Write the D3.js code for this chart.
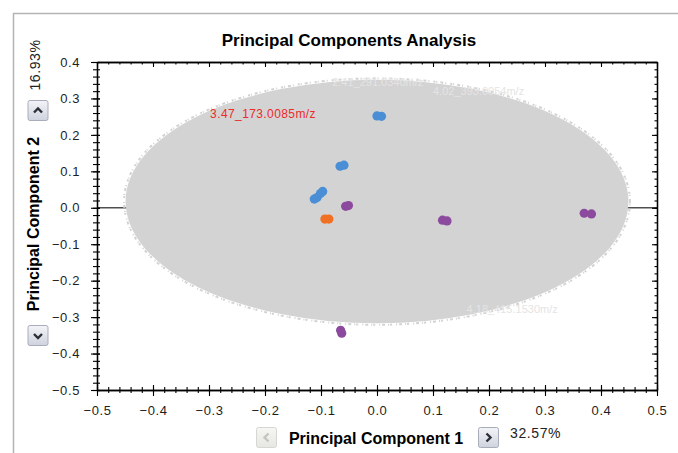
<!DOCTYPE html>
<html>
<head>
<meta charset="utf-8">
<script src="https://cdn.jsdelivr.net/npm/d3@7"></script>
<style>
  body { margin: 0; background: #fff; }
  svg { display: block; font-family: "Liberation Sans", Arial, sans-serif; }
  .tick text { fill: #1e1e1e; }
</style>
</head>
<body>
<svg width="678" height="453"></svg>
<script>
// data
const xTicks = [-0.5, -0.4, -0.3, -0.2, -0.1, 0.0, 0.1, 0.2, 0.3, 0.4, 0.5]
const yTicks = [-0.5, -0.4, -0.3, -0.2, -0.1, 0.0, 0.1, 0.2, 0.3, 0.4]

const pc1Blue = [0.000, 0.008, -0.066, -0.059, -0.097, -0.101, -0.107, -0.112]
const pc2Blue = [0.252, 0.251, 0.114, 0.117, 0.045, 0.039, 0.028, 0.024]
const pc1Purple = [-0.056, -0.051, 0.117, 0.125, 0.370, 0.383, -0.065, -0.063]
const pc2Purple = [0.004, 0.006, -0.034, -0.036, -0.015, -0.017, -0.336, -0.344]
const pc1Orange = [-0.093, -0.086]
const pc2Orange = [-0.031, -0.031]

// loadings cloud (ellipse: centre + radii in PC units)
const cloudCentre = [0.0, 0.017]
const cloudRadius = [0.449, 0.334]
const cloudLabels = ['2.41_291.0340m/z', '4.02_393.0054m/z', '4.18_415.1530m/z']
const cloudLabelX = [-0.08, 0.10, 0.16]
const cloudLabelY = [0.335, 0.31, -0.29]

const hiLabel = '3.47_173.0085m/z'
const hiLabelX = -0.298
const hiLabelY = 0.245

const pctPC1 = '32.57%'
const pctPC2 = '16.93%'

const colors = { blue: '#4a8fd6', purple: '#8c4a9e', orange: '#f07024' }

// dimensions
const margin = { top: 62, right: 21, bottom: 63, left: 97 }
const W = 678, H = 453

const $svg = d3.select('svg')
const x = d3.scaleLinear().domain([-0.5, 0.5]).range([margin.left, W - margin.right])
const y = d3.scaleLinear().domain([-0.5, 0.4]).range([H - margin.bottom, margin.top])
const minorX = d3.ticks(-0.5, 0.5, 50)
const minorY = d3.ticks(-0.5, 0.4, 45)

// defs for buttons
const defs = $svg.append('defs')
const grad = defs.append('linearGradient').attr('id', 'btn').attr('x1', 0).attr('y1', 0).attr('x2', 0).attr('y2', 1)
grad.append('stop').attr('offset', 0).attr('stop-color', '#f3f4f8')
grad.append('stop').attr('offset', 1).attr('stop-color', '#cfd3de')
const gradOff = defs.append('linearGradient').attr('id', 'btnOff').attr('x1', 0).attr('y1', 0).attr('x2', 0).attr('y2', 1)
gradOff.append('stop').attr('offset', 0).attr('stop-color', '#f6f6f4')
gradOff.append('stop').attr('offset', 1).attr('stop-color', '#e6e6e2')

// frame
$svg.append('line').attr('x1', 13).attr('x2', W).attr('y1', 13.5).attr('y2', 13.5)
  .attr('stroke', '#b4b4b4').attr('stroke-width', 1.5)
$svg.append('line').attr('x1', 13.5).attr('x2', 13.5).attr('y1', 13).attr('y2', H)
  .attr('stroke', '#b4b4b4').attr('stroke-width', 1.5)

// zero line
$svg.append('line')
  .attr('x1', x(-0.5)).attr('x2', x(0.5)).attr('y1', y(0)).attr('y2', y(0))
  .attr('stroke', '#505050').attr('stroke-width', 1.6)

// cloud
const rx = x(cloudRadius[0]) - x(0)
const ry = y(0) - y(cloudRadius[1])
$svg.append('ellipse')
  .attr('cx', x(cloudCentre[0])).attr('cy', y(cloudCentre[1]))
  .attr('rx', rx + 1.5).attr('ry', ry + 1.5)
  .attr('fill', 'none').attr('stroke', '#d3d3d3').attr('stroke-width', 2)
  .attr('stroke-dasharray', '2 1 1 3 3 2 1 4')
$svg.append('ellipse')
  .attr('cx', x(cloudCentre[0])).attr('cy', y(cloudCentre[1]))
  .attr('rx', rx).attr('ry', ry)
  .attr('fill', '#d3d3d3')

$svg.append('g').selectAll('text')
  .data(cloudLabels)
  .join('text')
  .attr('x', (d, i) => x(cloudLabelX[i]))
  .attr('y', (d, i) => y(cloudLabelY[i]))
  .attr('fill', '#e4e4e4')
  .style('font-size', '11px')
  .text(d => d)

// highlighted loading
$svg.append('text')
  .attr('x', x(hiLabelX)).attr('y', y(hiLabelY))
  .attr('fill', '#ee2a2a')
  .style('font-size', '12px')
  .style('letter-spacing', '0.4px')
  .text(hiLabel)

// scores
const groups = [
  { xs: pc1Blue, ys: pc2Blue, c: colors.blue },
  { xs: pc1Purple, ys: pc2Purple, c: colors.purple },
  { xs: pc1Orange, ys: pc2Orange, c: colors.orange }
]
groups.forEach(g => {
  $svg.append('g').selectAll('circle')
    .data(g.xs.map((v, i) => [v, g.ys[i]]))
    .join('circle')
    .attr('cx', d => x(d[0]))
    .attr('cy', d => y(d[1]))
    .attr('r', 4.6)
    .attr('fill', g.c)
})

// axes
const fmt = d3.format('.1f')
function styleAxis(sel) {
  sel.select('.domain').attr('stroke', '#000').attr('stroke-width', 1.3)
  sel.selectAll('.tick line').attr('stroke', '#000').attr('stroke-width', 1.1)
  sel.selectAll('.tick text').style('font-size', '13px').style('letter-spacing', '0.6px')
}

// bottom
const gB = $svg.append('g').attr('transform', `translate(0,${y(-0.5)})`)
gB.append('g').call(d3.axisBottom(x).tickValues(minorX).tickFormat('').tickSize(3).tickSizeOuter(0))
  .call(styleAxis).selectAll('.tick line').attr('y1', -3)
gB.append('g').call(d3.axisBottom(x).tickValues(xTicks).tickFormat(fmt).tickSize(6).tickPadding(10).tickSizeOuter(0))
  .call(styleAxis).selectAll('.tick line').attr('y1', -5)

// left
const gL = $svg.append('g').attr('transform', `translate(${x(-0.5)},0)`)
gL.append('g').call(d3.axisLeft(y).tickValues(minorY).tickFormat('').tickSize(4).tickSizeOuter(0))
  .call(styleAxis).selectAll('.tick line').attr('x1', 3)
gL.append('g').call(d3.axisLeft(y).tickValues(yTicks).tickFormat(fmt).tickSize(6).tickPadding(11).tickSizeOuter(0))
  .call(styleAxis).selectAll('.tick line').attr('x1', 3)

// top
const gT = $svg.append('g').attr('transform', `translate(0,${y(0.4)})`)
gT.append('g').call(d3.axisBottom(x).tickValues(minorX).tickFormat('').tickSize(2.5).tickSizeOuter(0)).call(styleAxis)
gT.append('g').call(d3.axisBottom(x).tickValues(xTicks).tickFormat('').tickSize(5).tickSizeOuter(0)).call(styleAxis)

// right
const gR = $svg.append('g').attr('transform', `translate(${x(0.5)},0)`)
gR.append('g').call(d3.axisLeft(y).tickValues(minorY).tickFormat('').tickSize(2.5).tickSizeOuter(0))
  .call(styleAxis).selectAll('.tick line').attr('x2', 0).attr('x1', -2.5)
gR.append('g').call(d3.axisLeft(y).tickValues(yTicks).tickFormat('').tickSize(5).tickSizeOuter(0)).call(styleAxis)

// titles
$svg.append('text')
  .attr('x', 349).attr('y', 46)
  .attr('text-anchor', 'middle')
  .style('font-size', '17px').style('font-weight', 'bold')
  .text('Principal Components Analysis')

$svg.append('text')
  .attr('x', 376).attr('y', 444)
  .attr('text-anchor', 'middle')
  .style('font-size', '16px').style('font-weight', 'bold')
  .text('Principal Component 1')

$svg.append('text')
  .attr('x', 510).attr('y', 438)
  .style('font-size', '14px').style('letter-spacing', '0.6px')
  .attr('fill', '#222')
  .text(pctPC1)

$svg.append('text')
  .attr('transform', 'translate(40,65) rotate(-90)')
  .attr('text-anchor', 'middle')
  .style('font-size', '14px').style('letter-spacing', '0.6px')
  .attr('fill', '#222')
  .text(pctPC2)

$svg.append('text')
  .attr('transform', 'translate(39,224) rotate(-90)')
  .attr('text-anchor', 'middle')
  .style('font-size', '16px').style('font-weight', 'bold')
  .text('Principal Component 2')

// buttons
function button(bx, by, dir, enabled) {
  const g = $svg.append('g').attr('transform', `translate(${bx},${by})`)
  g.append('rect').attr('x', 0.5).attr('y', 0.5).attr('width', 20).attr('height', 20).attr('rx', 2)
    .attr('fill', enabled ? 'url(#btn)' : 'url(#btnOff)')
    .attr('stroke', enabled ? '#a9adba' : '#d6d6d2')
  const paths = {
    up: 'M6.5,12.5 L10.5,8.5 L14.5,12.5',
    down: 'M6.5,9 L10.5,13 L14.5,9',
    left: 'M12.5,6.5 L8.5,10.5 L12.5,14.5',
    right: 'M8.5,6.5 L12.5,10.5 L8.5,14.5'
  }
  g.append('path').attr('d', paths[dir]).attr('fill', 'none')
    .attr('stroke', enabled ? '#2c2f38' : '#c4c4c0').attr('stroke-width', 2.4)
}
button(27.5, 100, 'up', true)
button(27.5, 325, 'down', true)
button(256, 427, 'left', false)
button(478, 427, 'right', true)
</script>
</body>
</html>
